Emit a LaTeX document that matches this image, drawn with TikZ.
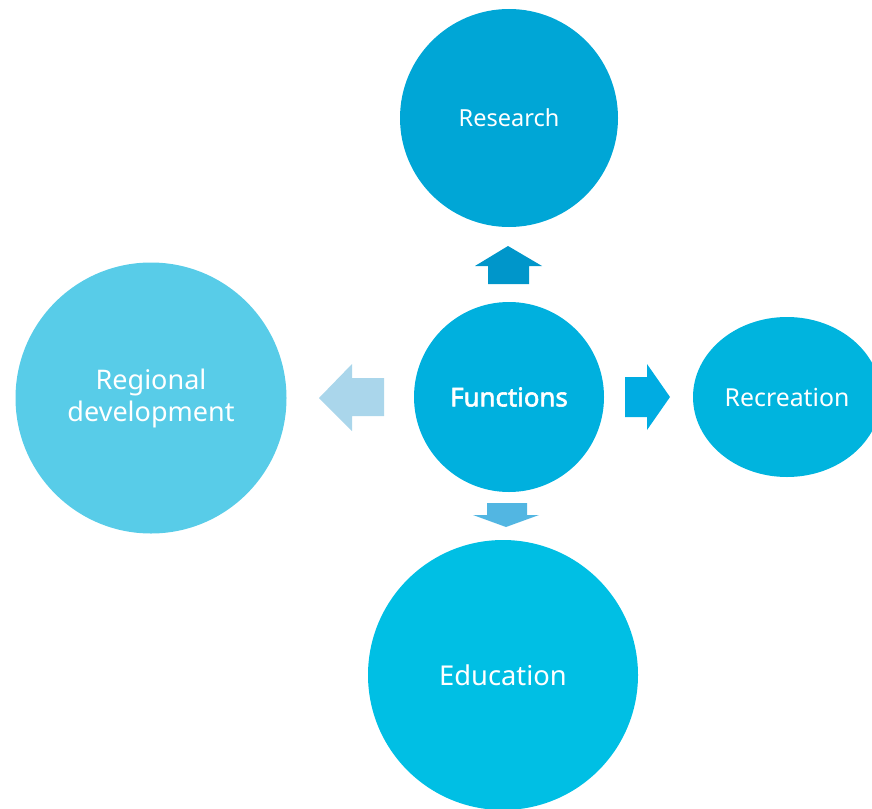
\documentclass[tikz,border=0pt]{standalone}
\usepackage{fontspec}
\setmainfont{Noto Sans}[AutoFakeBold=2.2]
\usetikzlibrary{shapes.geometric}
\definecolor{resblue}{RGB}{0,166,214}
\definecolor{funblue}{RGB}{0,176,222}
\definecolor{recblue}{RGB}{0,180,222}
\definecolor{edublue}{RGB}{0,191,228}
\definecolor{regblue}{RGB}{88,204,232}
\definecolor{upblue}{RGB}{0,150,202}
\definecolor{rightblue}{RGB}{0,172,226}
\definecolor{downblue}{RGB}{82,182,226}
\definecolor{leftblue}{RGB}{170,214,235}
\tikzset{
  bubble/.style={circle, inner sep=0pt, text=white, align=center,
    font=\fontsize{23.5}{32}\selectfont}
}
\begin{document}
\begin{tikzpicture}[x=1pt, y=-1pt]
\useasboundingbox (0,0) rectangle (872,808);
% circles
\node[bubble, fill=regblue, minimum size=271pt, font=\fontsize{27}{32}\selectfont] (regional) at (151,398) {Regional\\development};
\node[bubble, fill=resblue, minimum size=218pt] (research) at (509,118) {Research};
\node[bubble, fill=funblue, minimum size=190pt, font=\fontsize{25.8}{28}\selectfont\bfseries] (functions) at (509,397) {Functions};
\node[bubble, ellipse, fill=recblue, minimum width=188pt, minimum height=160pt, font=\fontsize{24.8}{28}\selectfont] (recreation) at (787,397) {Recreation};
\node[bubble, fill=edublue, minimum size=270pt, font=\fontsize{27.3}{30}\selectfont] (education) at (503,675) {Education};
% block arrows
\fill[upblue] (488,284) -- (488,266) -- (475,266) -- (508,246) -- (542,266) -- (529,266) -- (529,284) -- cycle;
\fill[rightblue] (625,377) -- (647,377) -- (647,364) -- (670,397) -- (647,430) -- (647,417) -- (625,417) -- cycle;
\fill[downblue] (487,503) -- (527,503) -- (527,515) -- (539,515) -- (506,527) -- (473,515) -- (487,515) -- cycle;
\fill[leftblue] (384,378) -- (352,378) -- (352,364) -- (319,398) -- (352,431) -- (352,416) -- (384,416) -- cycle;
\end{tikzpicture}
\end{document}
